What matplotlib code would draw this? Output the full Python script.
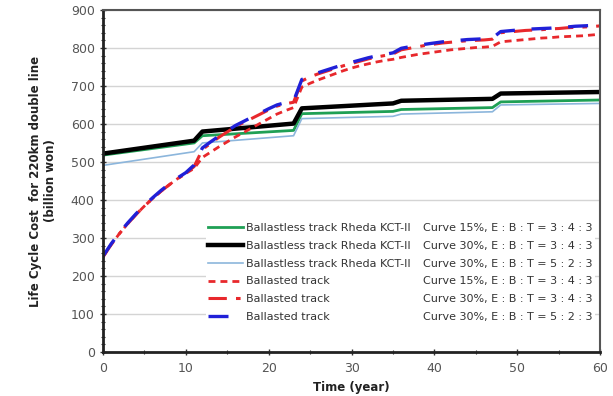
import numpy as np
import matplotlib.pyplot as plt
from matplotlib.lines import Line2D
from matplotlib.ticker import MultipleLocator

# ballastless track lines (piecewise, steps at maintenance years)
slab_years = [0, 11, 12, 23, 24, 35, 36, 47, 48, 60]
slab_15_343 = [518, 550, 569, 583, 627, 633, 638, 643, 658, 663]
slab_30_343 = [522, 556, 580, 601, 641, 654, 661, 666, 680, 684]
slab_30_523 = [491, 527, 550, 569, 614, 620, 626, 632, 650, 654]

# ballasted track lines, yearly
years = list(range(0, 61))
ballast_15_343 = [250, 283, 312, 338, 362, 384, 404, 423, 440, 456, 470, 483,
                  512, 526, 540, 553, 566, 578, 590, 602, 614, 626, 635, 643,
                  697, 707, 716, 724, 732, 740, 747, 753, 758, 763, 767, 770,
                  775, 779, 783, 786, 789, 792, 795, 797, 799, 801, 802, 804,
                  816, 818, 820, 822, 824, 826, 827, 829, 830, 831, 832, 834, 836]
ballast_30_343 = [250, 283, 312, 338, 362, 384, 404, 423, 440, 456, 470, 488,
                  533, 549, 565, 579, 593, 604, 615, 626, 637, 647, 653, 657,
                  713, 724, 732, 739, 746, 753, 759, 765, 771, 776, 780, 784,
                  795, 799, 803, 807, 810, 813, 815, 817, 819, 820, 821, 823,
                  840, 842, 844, 846, 847, 848, 850, 851, 853, 854, 855, 856, 858]
ballast_30_523 = [252, 285, 314, 340, 364, 386, 406, 425, 442, 458, 472, 492,
                  537, 553, 568, 582, 596, 607, 618, 629, 640, 650, 656, 660,
                  717, 727, 735, 742, 749, 756, 762, 768, 774, 779, 783, 787,
                  799, 803, 807, 810, 813, 816, 818, 820, 822, 823, 824, 826,
                  843, 845, 847, 849, 850, 851, 852, 854, 855, 857, 858, 859, 861]

names = ["Ballastless track Rheda KCT-II", "Ballastless track Rheda KCT-II",
         "Ballastless track Rheda KCT-II", "Ballasted track",
         "Ballasted track", "Ballasted track"]
cases = ["Curve 15%, E : B : T = 3 : 4 : 3", "Curve 30%, E : B : T = 3 : 4 : 3",
         "Curve 30%, E : B : T = 5 : 2 : 3", "Curve 15%, E : B : T = 3 : 4 : 3",
         "Curve 30%, E : B : T = 3 : 4 : 3", "Curve 30%, E : B : T = 5 : 2 : 3"]

fig = plt.figure(figsize=(6.13, 3.96), dpi=100)
ax = fig.add_axes([0.168, 0.111, 0.811, 0.864])

ax.grid(True, axis='y', color='#d4d4d4', lw=1)
ax.set_axisbelow(True)

h1, = ax.plot(slab_years, slab_15_343, color='#1fa055', lw=2)
h3, = ax.plot(slab_years, slab_30_523, color='#8cb6dc', lw=1.2)
h2, = ax.plot(slab_years, slab_30_343, color='black', lw=3.2)
h4, = ax.plot(years, ballast_15_343, color='#e8282c', lw=2, dashes=(2.5, 1.8))
h5, = ax.plot(years, ballast_30_343, color='#e8282c', lw=2.2, dashes=(6, 3, 1.5, 3))
h6, = ax.plot(years, ballast_30_523, color='#2020d8', lw=2.4, dashes=(6, 5))

ax.set_xlim(0, 60)
ax.set_ylim(0, 900)
ax.xaxis.set_major_locator(MultipleLocator(10))
ax.xaxis.set_minor_locator(MultipleLocator(5))
ax.yaxis.set_major_locator(MultipleLocator(100))
ax.yaxis.set_minor_locator(MultipleLocator(20))
ax.tick_params(which='both', direction='inout', colors='#333333', labelcolor='#555555',
               labelsize=9)
ax.tick_params(which='major', length=5, width=1)
ax.tick_params(which='minor', length=3, width=0.8)
ax.tick_params(axis='x', pad=5)

for s in ['left', 'bottom']:
    ax.spines[s].set_linewidth(2)
    ax.spines[s].set_color('#222222')
for s in ['top', 'right']:
    ax.spines[s].set_linewidth(1.5)
    ax.spines[s].set_color('#555555')

ax.set_xlabel("Time (year)", fontsize=8.5, fontweight='bold', color='#222222', labelpad=4)
ax.set_ylabel("Life Cycle Cost  for 220km double line\n(billion won)", fontsize=8.5,
              fontweight='bold', color='#222222', labelpad=10)

blank = Line2D([], [], linestyle='none')
handles = [h1, h2, h3, h4, h5, h6] + [blank] * 6
labels = names + cases
leg = ax.legend(handles, labels, ncol=2, loc='lower right', bbox_to_anchor=(1.0, 0.065),
                fontsize=8, frameon=True, handlelength=3.1, handletextpad=0.3,
                columnspacing=-2.3, labelspacing=0.7, borderpad=0.2)
leg.get_frame().set_facecolor('white')
leg.get_frame().set_edgecolor('none')
leg.get_frame().set_alpha(1)
for t in leg.get_texts():
    t.set_color('#333333')

plt.savefig("out.png", dpi=100)
